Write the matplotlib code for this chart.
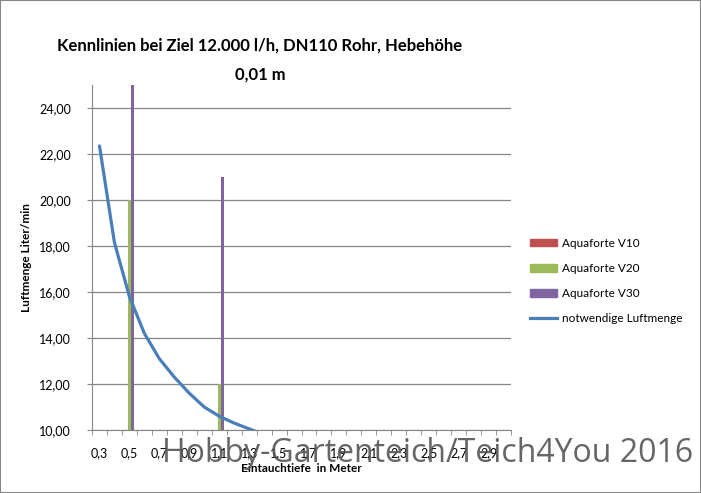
import matplotlib
matplotlib.use('Agg')
import matplotlib.pyplot as plt
import numpy as np
from matplotlib.patches import Rectangle, Patch
from matplotlib.lines import Line2D

# Eintauchtiefe in Meter (Kategorien 0,3 ... 3,0)
tiefe = [0.3, 0.4, 0.5, 0.6, 0.7, 0.8, 0.9, 1.0, 1.1, 1.2, 1.3, 1.4, 1.5, 1.6,
         1.7, 1.8, 1.9, 2.0, 2.1, 2.2, 2.3, 2.4, 2.5, 2.6, 2.7, 2.8, 2.9, 3.0]

# Luftmenge der Pumpen (nur bei 0,5 und 1,1 m vorhanden)
v10_tiefe = []
v10_luft = []
v20_tiefe = [0.5, 1.1]
v20_luft = [20.0, 12.0]
v30_tiefe = [0.5, 1.1]
v30_luft = [26.0, 21.0]

# notwendige Luftmenge
luft_tiefe = [0.3, 0.4, 0.5, 0.6, 0.7, 0.8, 0.9, 1.0, 1.1, 1.2, 1.3, 1.4]
luft_noetig = [22.35, 18.15, 15.8, 14.2, 13.1, 12.3, 11.6, 11.0, 10.6, 10.3, 10.05, 9.8]

farbe_v10 = '#C0504D'
farbe_v20 = '#9BBB59'
farbe_v30 = '#8064A2'
farbe_linie = '#4A7EBB'
grau = '#868686'

plt.rcParams['font.family'] = ['Lato', 'DejaVu Sans']

def idx(werte):
    return [int(round((w - tiefe[0]) * 10)) for w in werte]

fig = plt.figure(figsize=(7.01, 4.93), dpi=100)
ax = fig.add_axes([92/701, 63/493, 419/701, 345/493])

breite = 0.2
ax.bar(np.array(idx(v10_tiefe)) - breite, v10_luft, width=breite, color=farbe_v10, zorder=2)
ax.bar(np.array(idx(v20_tiefe)), v20_luft, width=breite, color=farbe_v20, zorder=2)
ax.bar(np.array(idx(v30_tiefe)) + breite, v30_luft, width=breite, color=farbe_v30, zorder=2)
ax.plot(idx(luft_tiefe), luft_noetig, color=farbe_linie, lw=2.3, zorder=3,
        solid_capstyle='round')

ax.set_xlim(-0.5, len(tiefe) - 0.5)
ax.set_ylim(10, 25)
ax.set_yticks(np.arange(10, 25, 2))
ax.set_yticklabels(['{:.2f}'.format(v).replace('.', ',') for v in np.arange(10, 25, 2)],
                   fontsize=9)
ax.yaxis.grid(True, color=grau, lw=0.9)
ax.set_axisbelow(True)

pos = list(range(0, len(tiefe), 2))
ax.set_xticks(pos)
ax.set_xticklabels(['{:.1f}'.format(tiefe[i]).replace('.', ',') for i in pos], fontsize=9)
ax.set_xticks(np.arange(-0.5, len(tiefe), 1), minor=True)
ax.tick_params(axis='x', which='major', length=0, pad=12)
ax.tick_params(axis='x', which='minor', length=3.6, color=grau, direction='out')
ax.tick_params(axis='y', length=3.6, color=grau, pad=11.5)

for s in ['top', 'right']:
    ax.spines[s].set_visible(False)
for s in ['left', 'bottom']:
    ax.spines[s].set_color(grau)

ax.set_ylabel('Luftmenge Liter/min', fontsize=8.5, fontweight='bold', labelpad=5)
ax.set_xlabel('Eintauchtiefe  in Meter', fontsize=8.5, fontweight='bold', labelpad=3)

fig.text(260/701, 1 - 60/493, 'Kennlinien bei Ziel 12.000 l/h, DN110 Rohr, Hebehöhe\n0,01 m',
         ha='center', va='center', fontsize=12, fontweight='bold',
         linespacing=1.95)

handles = [Patch(color=farbe_v10), Patch(color=farbe_v20), Patch(color=farbe_v30),
           Line2D([], [], color=farbe_linie, lw=2.3)]
labels = ['Aquaforte V10', 'Aquaforte V20', 'Aquaforte V30', 'notwendige Luftmenge']
fig.legend(handles, labels, loc='center left', bbox_to_anchor=(519/701, 1 - 281/493),
           frameon=False, fontsize=8.5, handlelength=2.3, handleheight=0.6,
           labelspacing=1.2, handletextpad=0.4)

fig.text(428/701, 1 - 453/493, 'Hobby-Gartenteich/Teich4You 2016', ha='center', va='center',
         fontsize=23, color='#555555', alpha=0.9, family='Open Sans')

fig.patches.append(Rectangle((0, 0), 1, 1, transform=fig.transFigure, fill=False,
                             edgecolor=grau, lw=1.5))

fig.savefig('out.png', dpi=100)
